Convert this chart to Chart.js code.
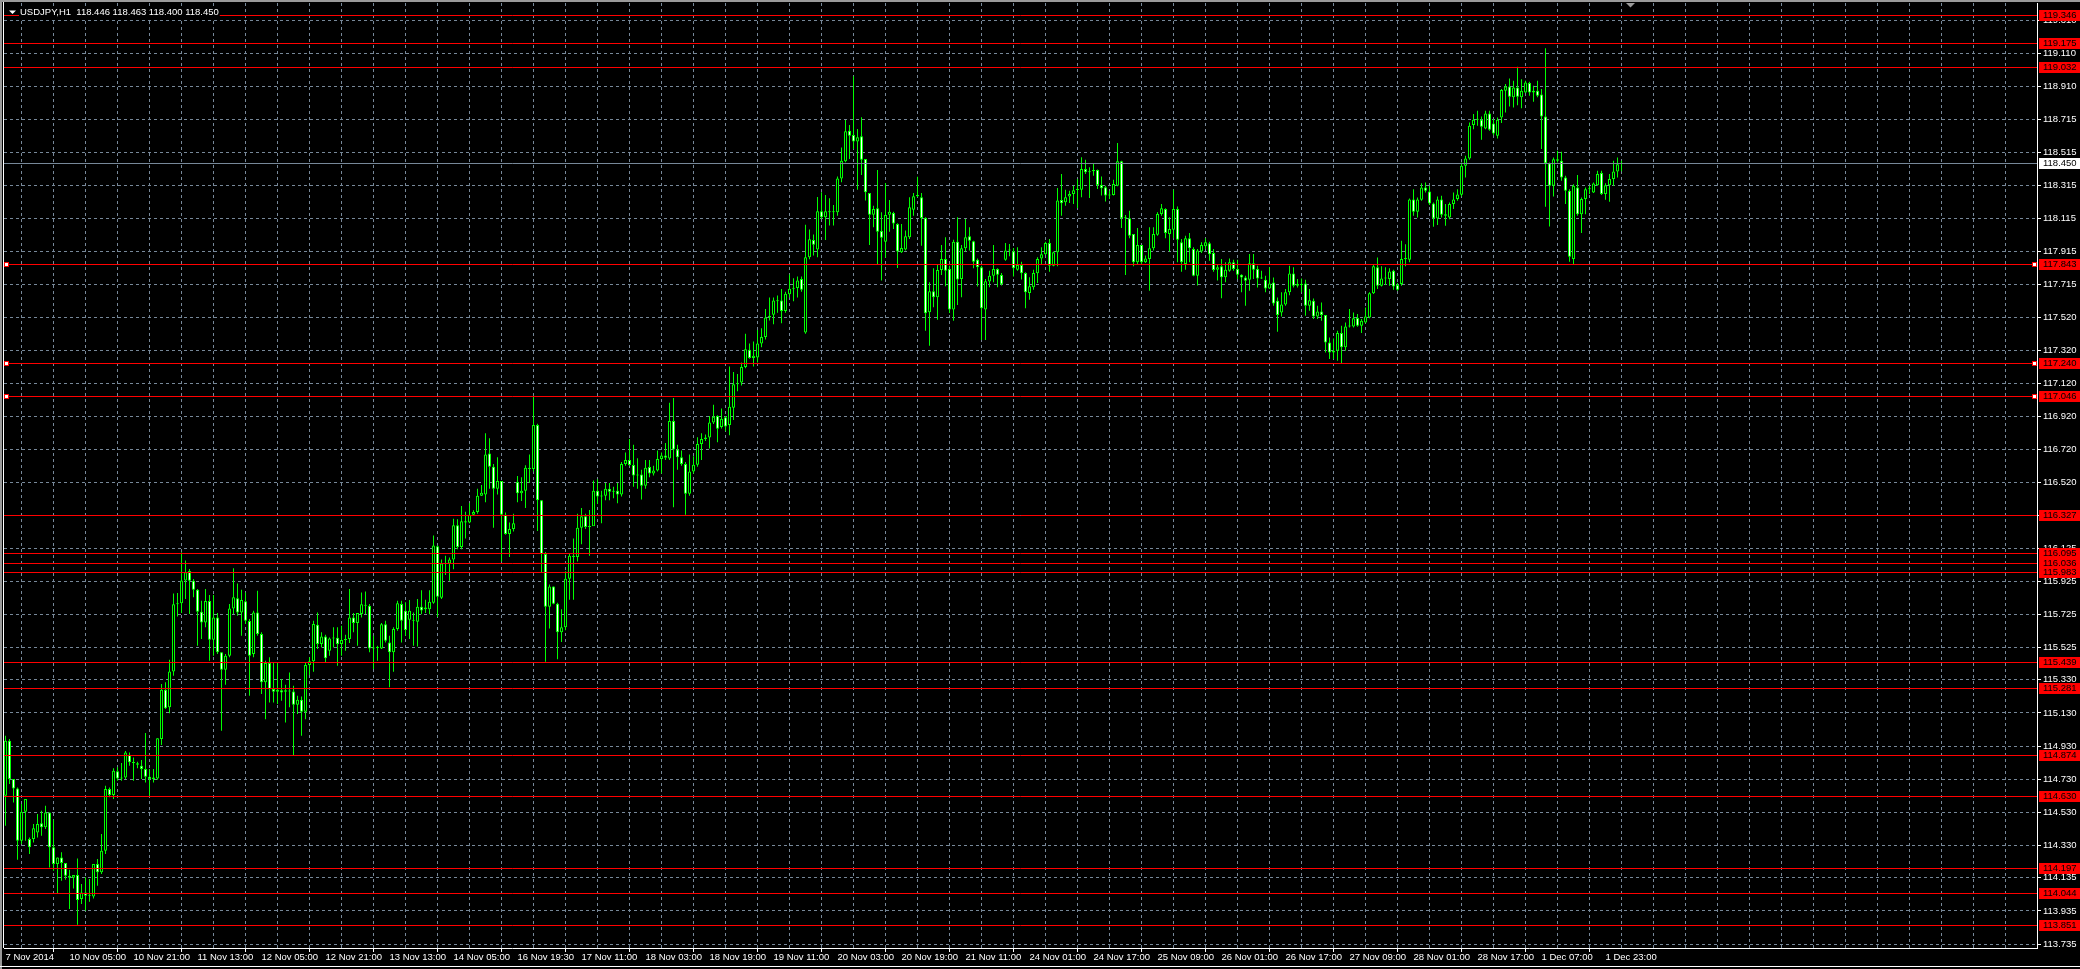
<!DOCTYPE html>
<html>
<head>
<meta charset="utf-8">
<title>USDJPY,H1</title>
<script src="https://cdn.jsdelivr.net/npm/chart.js@4.4.1/dist/chart.umd.min.js"></script>
<style>
  html, body { margin: 0; padding: 0; background: #000; overflow: hidden; }
  canvas { display: block; }
</style>
</head>
<body>
<canvas id="chart" width="2080" height="969"></canvas>
<script>
/*************************************************
 * DATA  (USDJPY H1, bar 0 = 7 Nov 2014 13:00)
 *************************************************/
const symbol = "USDJPY,H1";
const lastQuote = ["118.446", "118.463", "118.400", "118.450"];

const opens = [
114.631,114.963,114.731,114.675,114.359,114.534,114.369,114.369,114.409,114.464,114.440,114.530,114.319,114.218,114.258,114.224,
114.148,114.136,114.152,114.007,114.047,114.027,114.023,114.218,114.168,114.299,114.671,114.635,114.778,114.735,114.741,114.878,
114.832,114.826,114.812,114.792,114.745,114.731,114.735,114.973,115.271,115.164,115.381,115.786,115.792,115.930,115.987,115.928,
115.874,115.741,115.677,115.806,115.572,115.707,115.496,115.391,115.476,115.761,115.822,115.737,115.804,115.685,115.486,115.737,
115.607,115.315,115.432,115.275,115.258,115.267,115.258,115.265,115.260,115.180,115.210,115.138,115.419,115.442,115.663,115.546,
115.592,115.506,115.580,115.584,115.546,115.570,115.576,115.707,115.673,115.727,115.782,115.778,115.520,115.526,115.520,115.665,
115.556,115.496,115.637,115.788,115.747,115.693,115.691,115.681,115.772,115.756,115.756,115.795,116.137,115.825,116.033,116.033,
116.056,116.264,116.132,116.287,116.280,116.326,116.343,116.442,116.449,116.696,116.617,116.483,116.530,116.326,116.211,116.241,
116.525,116.456,116.472,116.610,116.603,116.869,116.414,116.090,115.772,115.894,115.790,115.617,115.647,115.940,116.079,116.072,
116.248,116.317,116.252,116.257,116.472,116.437,116.442,116.483,116.465,116.472,116.449,116.633,116.657,116.627,116.564,116.569,
116.502,116.615,116.576,116.594,116.663,116.684,116.666,116.892,116.720,116.673,116.633,116.453,116.587,116.629,116.754,116.784,
116.793,116.883,116.922,116.856,116.915,116.869,116.973,117.114,117.125,117.218,117.322,117.273,117.276,117.361,117.400,117.518,
117.534,117.620,117.620,117.557,117.657,117.691,117.696,117.749,117.426,117.881,117.985,117.927,118.158,118.123,118.156,118.152,
118.152,118.357,118.460,118.645,118.619,118.579,118.611,118.474,118.269,118.138,118.176,118.040,117.975,118.138,118.148,118.082,
117.911,117.927,118.001,118.168,118.249,118.243,118.118,117.549,117.675,117.639,117.804,117.870,117.810,117.565,117.975,117.750,
117.935,118.007,117.977,117.866,117.820,117.565,117.734,117.770,117.810,117.774,117.866,117.921,117.917,117.806,117.834,117.786,
117.665,117.700,117.784,117.874,117.899,117.967,117.830,117.911,118.227,118.213,118.247,118.263,118.287,118.289,118.414,118.394,
118.400,118.408,118.317,118.303,118.253,118.257,118.313,118.460,118.116,118.116,118.021,117.850,117.955,117.850,117.870,117.935,
118.017,118.142,118.172,118.021,118.047,118.172,117.971,117.840,117.995,117.931,117.770,117.915,117.947,117.965,117.907,117.806,
117.826,117.760,117.800,117.850,117.810,117.775,117.759,117.745,117.844,117.810,117.753,117.745,117.693,117.729,117.618,117.548,
117.596,117.669,117.783,117.709,117.719,117.723,117.588,117.618,117.524,117.554,117.532,117.367,117.306,117.316,117.423,117.337,
117.463,117.463,117.514,117.467,117.487,117.518,117.663,117.820,117.709,117.753,117.749,117.800,117.713,117.719,117.870,117.866,
118.230,118.156,118.228,118.302,118.278,118.206,118.115,118.230,118.141,118.121,118.202,118.232,118.258,118.433,118.477,118.679,
118.711,118.711,118.658,118.749,118.689,118.614,118.725,118.886,118.912,118.846,118.906,118.846,118.876,118.932,118.876,118.886,
118.864,118.731,118.449,118.312,118.473,118.463,118.363,118.282,117.870,118.302,118.141,118.232,118.292,118.272,118.316,118.389,
118.262,118.316,118.353,118.399,118.446
];

const highs = [
114.993,114.973,114.731,114.681,114.580,114.611,114.379,114.460,114.520,114.540,114.570,114.530,114.484,114.258,114.289,114.224,
114.184,114.152,114.252,114.098,114.138,114.128,114.218,114.248,114.399,114.691,114.681,114.796,114.802,114.828,114.900,114.892,
114.862,114.836,114.846,115.009,114.792,114.792,114.977,115.305,115.315,115.452,115.852,115.854,116.100,116.051,115.999,115.939,
115.878,115.808,115.878,115.842,115.842,115.733,115.496,115.486,115.788,116.003,115.912,115.874,115.858,115.697,115.747,115.868,
115.617,115.446,115.466,115.432,115.432,115.335,115.301,115.375,115.295,115.234,115.230,115.436,115.466,115.687,115.737,115.617,
115.603,115.586,115.647,115.647,115.657,115.603,115.878,115.733,115.733,115.858,115.864,115.788,115.597,115.536,115.673,115.687,
115.597,115.647,115.808,115.808,115.798,115.812,115.737,115.818,115.871,115.813,115.871,116.201,116.141,116.056,116.079,116.068,
116.303,116.299,116.379,116.345,116.396,116.354,116.483,116.506,116.818,116.788,116.633,116.673,116.530,116.340,116.280,116.333,
116.560,116.553,116.626,116.691,117.045,116.876,116.414,116.102,115.906,115.894,115.795,115.756,115.986,116.091,116.183,116.333,
116.368,116.333,116.356,116.534,116.541,116.472,116.518,116.518,116.495,116.518,116.645,116.703,116.784,116.749,116.668,116.599,
116.657,116.657,116.622,116.714,116.703,116.760,117.003,117.031,116.749,116.714,116.645,116.691,116.680,116.795,116.818,116.811,
116.922,116.991,116.927,116.968,116.922,117.222,117.188,117.176,117.246,117.419,117.361,117.372,117.442,117.453,117.569,117.638,
117.638,117.650,117.689,117.673,117.777,117.754,117.765,117.765,118.077,118.049,118.019,118.244,118.274,118.257,118.237,118.196,
118.369,118.544,118.709,118.679,118.973,118.655,118.726,118.474,118.269,118.192,118.408,118.152,118.329,118.227,118.156,118.086,
118.082,118.042,118.243,118.269,118.367,118.269,118.122,117.730,117.814,117.840,117.955,118.001,117.830,117.987,118.122,117.955,
118.112,118.062,117.981,117.874,117.830,117.750,117.800,117.955,117.814,117.786,117.967,117.961,117.937,117.941,117.854,117.790,
117.760,117.806,117.881,117.941,117.975,117.991,117.915,118.299,118.383,118.289,118.283,118.313,118.353,118.484,118.470,118.424,
118.444,118.410,118.369,118.313,118.283,118.349,118.571,118.464,118.136,118.162,118.021,118.058,117.955,117.891,118.062,118.062,
118.152,118.202,118.176,118.122,118.289,118.188,117.991,118.011,118.027,117.941,117.931,117.971,117.995,117.975,117.931,117.840,
117.870,117.850,117.874,117.866,117.866,117.779,117.769,117.900,117.900,117.830,117.800,117.769,117.820,117.759,117.638,117.669,
117.689,117.830,117.820,117.749,117.753,117.745,117.689,117.632,117.588,117.608,117.532,117.397,117.391,117.437,117.467,117.487,
117.568,117.548,117.538,117.508,117.578,117.669,117.840,117.880,117.826,117.820,117.814,117.806,117.725,117.980,117.960,118.236,
118.292,118.242,118.328,118.332,118.312,118.212,118.248,118.252,118.202,118.212,118.272,118.292,118.453,118.493,118.695,118.745,
118.765,118.731,118.765,118.765,118.715,118.725,118.896,118.926,118.960,118.946,119.031,118.956,118.946,118.940,118.916,118.946,
118.896,119.143,118.453,118.483,118.524,118.518,118.373,118.292,118.322,118.377,118.242,118.302,118.312,118.332,118.403,118.403,
118.328,118.383,118.463,118.483,118.463
];

const lows = [
114.450,114.701,114.590,114.244,114.339,114.359,114.279,114.349,114.379,114.389,114.430,114.198,114.178,114.043,114.118,114.124,
113.947,114.071,113.852,113.977,113.937,113.991,114.011,114.088,114.158,114.279,114.621,114.611,114.721,114.721,114.731,114.812,
114.721,114.796,114.731,114.711,114.631,114.711,114.727,114.937,115.154,115.128,115.355,115.713,115.733,115.818,115.727,115.828,
115.536,115.576,115.647,115.446,115.476,115.486,115.023,115.301,115.466,115.727,115.717,115.597,115.667,115.234,115.466,115.597,
115.244,115.093,115.194,115.194,115.184,115.204,115.073,115.164,114.872,115.124,114.993,115.093,115.359,115.379,115.516,115.526,
115.432,115.476,115.526,115.415,115.476,115.506,115.552,115.617,115.536,115.707,115.727,115.496,115.395,115.446,115.516,115.556,
115.285,115.379,115.627,115.556,115.597,115.576,115.536,115.532,115.726,115.733,115.726,115.790,115.710,115.818,115.963,115.929,
115.998,116.118,116.118,116.183,116.275,116.322,116.333,116.440,116.402,116.483,116.248,116.449,116.044,116.206,116.072,116.225,
116.402,116.409,116.368,116.518,116.587,116.229,115.975,115.439,115.640,115.786,115.455,115.559,115.629,115.813,115.813,116.044,
116.148,116.241,116.079,116.264,116.391,116.275,116.414,116.414,116.426,116.396,116.437,116.622,116.622,116.495,116.483,116.419,
116.483,116.553,116.564,116.587,116.576,116.657,116.657,116.372,116.599,116.622,116.326,116.442,116.576,116.617,116.657,116.772,
116.726,116.875,116.765,116.848,116.830,116.807,116.899,117.072,117.107,117.211,117.269,117.222,117.246,117.338,117.384,117.499,
117.476,117.546,117.483,117.546,117.638,117.615,117.638,117.673,117.419,117.869,117.892,117.881,118.112,117.985,118.072,118.072,
118.132,118.333,118.454,118.474,118.534,118.289,118.377,118.223,117.955,118.062,117.834,117.740,117.878,118.035,118.052,117.816,
117.907,117.921,117.991,118.132,118.243,117.951,117.438,117.347,117.579,117.504,117.774,117.706,117.545,117.498,117.593,117.639,
117.915,117.921,117.814,117.704,117.382,117.382,117.700,117.730,117.700,117.710,117.860,117.887,117.764,117.800,117.746,117.573,
117.625,117.685,117.726,117.840,117.895,117.794,117.826,117.826,118.132,118.192,118.209,118.202,118.178,118.243,118.383,118.239,
118.373,118.293,118.253,118.217,118.233,118.253,118.309,118.058,117.774,117.995,117.826,117.834,117.834,117.846,117.679,117.921,
118.011,118.132,117.995,117.915,117.995,117.850,117.794,117.806,117.850,117.766,117.710,117.907,117.931,117.860,117.794,117.740,
117.633,117.730,117.794,117.800,117.750,117.669,117.588,117.679,117.749,117.699,117.749,117.669,117.689,117.588,117.431,117.524,
117.588,117.652,117.699,117.699,117.669,117.528,117.558,117.508,117.508,117.498,117.306,117.266,117.266,117.256,117.236,117.316,
117.457,117.457,117.461,117.423,117.483,117.512,117.659,117.689,117.705,117.713,117.709,117.685,117.679,117.709,117.826,117.850,
118.131,118.121,118.222,118.272,118.196,118.065,118.075,118.121,118.071,118.111,118.172,118.222,118.248,118.363,118.469,118.654,
118.675,118.590,118.654,118.644,118.618,118.598,118.691,118.755,118.791,118.785,118.799,118.781,118.872,118.856,118.819,118.846,
118.534,118.186,118.067,118.248,118.453,118.343,118.202,117.854,117.840,118.131,118.027,118.141,118.262,118.268,118.312,118.256,
118.228,118.216,118.312,118.363,118.400
];

const closes = [
114.963,114.731,114.675,114.359,114.534,114.611,114.319,114.434,114.460,114.440,114.530,114.319,114.218,114.258,114.224,114.148,
114.136,114.152,114.001,114.047,114.027,114.033,114.218,114.168,114.299,114.671,114.635,114.782,114.735,114.741,114.892,114.832,
114.828,114.818,114.792,114.745,114.731,114.741,114.977,115.271,115.158,115.381,115.786,115.792,115.930,115.979,115.928,115.874,
115.741,115.677,115.806,115.572,115.707,115.496,115.391,115.476,115.761,115.828,115.737,115.812,115.687,115.476,115.737,115.607,
115.315,115.432,115.275,115.258,115.271,115.254,115.267,115.260,115.180,115.210,115.138,115.419,115.442,115.667,115.546,115.592,
115.460,115.580,115.584,115.546,115.570,115.574,115.707,115.673,115.733,115.786,115.778,115.520,115.526,115.522,115.665,115.566,
115.496,115.637,115.792,115.687,115.631,115.747,115.687,115.772,115.749,115.767,115.802,116.141,115.832,116.033,116.030,116.056,
116.264,116.132,116.287,116.280,116.326,116.343,116.442,116.460,116.691,116.617,116.483,116.530,116.326,116.211,116.241,116.275,
116.456,116.472,116.610,116.603,116.869,116.414,116.090,115.772,115.894,115.790,115.617,115.647,115.940,116.079,116.072,116.248,
116.317,116.252,116.257,116.472,116.437,116.442,116.483,116.465,116.472,116.449,116.633,116.657,116.627,116.564,116.569,116.502,
116.610,116.576,116.594,116.663,116.684,116.670,116.892,116.720,116.673,116.633,116.453,116.587,116.629,116.754,116.784,116.793,
116.883,116.918,116.846,116.906,116.860,116.978,117.114,117.120,117.218,117.326,117.273,117.287,117.361,117.400,117.518,117.527,
117.620,117.615,117.557,117.661,117.691,117.696,117.740,117.685,117.881,117.989,117.957,118.158,118.123,118.158,118.152,118.156,
118.357,118.464,118.641,118.615,118.579,118.605,118.470,118.273,118.138,118.172,118.035,117.999,118.136,118.156,118.084,117.915,
117.937,118.007,118.182,118.249,118.257,118.118,117.543,117.675,117.639,117.804,117.870,117.800,117.565,117.975,117.746,117.935,
118.001,117.981,117.854,117.820,117.573,117.736,117.770,117.810,117.776,117.718,117.921,117.925,117.814,117.834,117.784,117.669,
117.706,117.786,117.870,117.899,117.967,117.830,117.911,118.223,118.207,118.243,118.263,118.285,118.293,118.414,118.394,118.400,
118.408,118.317,118.297,118.253,118.257,118.323,118.460,118.116,118.122,118.011,117.850,117.955,117.850,117.874,117.935,118.021,
118.142,118.176,118.027,118.052,118.172,117.987,117.850,117.995,117.935,117.770,117.921,117.955,117.971,117.899,117.804,117.820,
117.760,117.806,117.850,117.810,117.776,117.759,117.739,117.844,117.806,117.753,117.759,117.693,117.723,117.602,117.532,117.596,
117.669,117.783,117.709,117.719,117.713,117.588,117.622,117.524,117.554,117.532,117.367,117.306,117.316,117.423,117.337,117.463,
117.467,117.512,117.467,117.498,117.524,117.663,117.826,117.709,117.753,117.759,117.795,117.705,117.685,117.870,117.874,118.230,
118.156,118.230,118.302,118.282,118.206,118.115,118.230,118.137,118.131,118.202,118.230,118.260,118.433,118.477,118.675,118.711,
118.715,118.669,118.749,118.650,118.628,118.711,118.890,118.912,118.850,118.906,118.850,118.886,118.936,118.876,118.886,118.856,
118.731,118.449,118.312,118.473,118.463,118.363,118.282,117.884,118.312,118.141,118.232,118.292,118.296,118.326,118.383,118.262,
118.316,118.353,118.399,118.443,118.450
];

// time labels, one every 16 bars
const timeLabels = [
  "7 Nov 2014", "10 Nov 05:00", "10 Nov 21:00", "11 Nov 13:00", "12 Nov 05:00", "12 Nov 21:00",
  "13 Nov 13:00", "14 Nov 05:00", "16 Nov 19:30", "17 Nov 11:00", "18 Nov 03:00", "18 Nov 19:00",
  "19 Nov 11:00", "20 Nov 03:00", "20 Nov 19:00", "21 Nov 11:00", "24 Nov 01:00", "24 Nov 17:00",
  "25 Nov 09:00", "26 Nov 01:00", "26 Nov 17:00", "27 Nov 09:00", "28 Nov 01:00", "28 Nov 17:00",
  "1 Dec 07:00", "1 Dec 23:00"
];

// price scale ticks
const priceTicks = [
  119.310, 119.110, 118.910, 118.715, 118.515, 118.315, 118.115, 117.915, 117.715, 117.520,
  117.320, 117.120, 116.920, 116.720, 116.520, 116.325, 116.125, 115.925, 115.725, 115.525,
  115.330, 115.130, 114.930, 114.730, 114.530, 114.330, 114.135, 113.935, 113.735
];

// horizontal lines drawn on the chart
const levels = [
  119.346, 119.175, 119.032, 117.843, 117.240, 117.046, 116.327, 116.095, 116.036,
  115.983, 115.439, 115.281, 114.874, 114.630, 114.197, 114.044, 113.851
];
const selectedLevels = [117.843, 117.240, 117.046];
const bidPrice = 118.450;

/*************************************************
 * STYLE
 *************************************************/
const FONT = "'Liberation Sans', Arial, sans-serif";
const FONT_SIZE = 9.5;
const GRID = "#778899";
const CANDLE = "#00ff00";
const LEVEL = "#ff0000";

const BARS_PER_LABEL = 16;
const BARS_PER_GRID = 8;

function timeLabel(v) {
  if (v % BARS_PER_LABEL !== 0) return "";
  return timeLabels[v / BARS_PER_LABEL] || "";
}

/*************************************************
 * OVERLAYS (levels, bid line, labels, title)
 *************************************************/
const overlay = {
  id: "overlay",
  beforeDraw(chart) {
    const ctx = chart.ctx;
    ctx.save();
    ctx.fillStyle = "#000";
    ctx.fillRect(0, 0, chart.width, chart.height);
    ctx.restore();
  },
  afterDatasetsDraw(chart) {
    const { ctx, chartArea: a, scales: { y } } = chart;
    ctx.save();
    ctx.lineWidth = 1;
    levels.forEach(v => {
      const py = Math.round(y.getPixelForValue(v)) + 0.5;
      ctx.strokeStyle = LEVEL;
      ctx.beginPath();
      ctx.moveTo(a.left, py);
      ctx.lineTo(a.right, py);
      ctx.stroke();
    });
    const by = Math.round(y.getPixelForValue(bidPrice)) + 0.5;
    ctx.strokeStyle = GRID;
    ctx.beginPath();
    ctx.moveTo(a.left, by);
    ctx.lineTo(a.right, by);
    ctx.stroke();

    // handles of the selected lines
    selectedLevels.forEach(v => {
      const py = Math.round(y.getPixelForValue(v));
      [a.left, a.right - 5].forEach(x0 => {
        ctx.fillStyle = LEVEL;
        ctx.fillRect(x0, py - 2, 5, 5);
        ctx.fillStyle = "#fff";
        ctx.fillRect(x0 + 1, py - 1, 3, 3);
      });
    });
    ctx.restore();
  },
  afterDraw(chart) {
    const { ctx, chartArea: a, scales: { y } } = chart;
    ctx.save();
    ctx.font = FONT_SIZE + "px " + FONT;
    ctx.textBaseline = "middle";
    ctx.textAlign = "left";

    const box = (v, bg, fg) => {
      const py = Math.round(y.getPixelForValue(v));
      ctx.fillStyle = bg;
      ctx.fillRect(a.right + 2, py - 5, chart.width - a.right - 2, 11);
      ctx.fillStyle = fg;
      ctx.fillText(v.toFixed(3), a.right + 6, py + 0.5);
    };
    levels.forEach(v => box(v, LEVEL, "#000"));
    box(bidPrice, "#fff", "#000");

    // title
    const title = symbol + "  " + lastQuote.join(" ");
    const w = ctx.measureText(title).width;
    ctx.fillStyle = "#000";
    ctx.fillRect(19, 6, w + 2, 13);
    ctx.fillStyle = "#fff";
    ctx.fillText(title, 20, 12.5);
    ctx.beginPath();
    ctx.moveTo(9, 10.5);
    ctx.lineTo(16, 10.5);
    ctx.lineTo(12.5, 14);
    ctx.closePath();
    ctx.fill();

    // window frame
    ctx.fillStyle = "#9a9a9a";
    ctx.fillRect(0, 0, chart.width, 2);
    ctx.fillRect(0, 0, 2, chart.height);
    ctx.fillStyle = "#fff";
    ctx.fillRect(3, 2, 1, a.bottom - 2);
    ctx.fillRect(0, chart.height - 3, chart.width, 1);

    // chart shift marker
    ctx.fillStyle = "#9a9a9a";
    ctx.beginPath();
    ctx.moveTo(1626, 3);
    ctx.lineTo(1635, 3);
    ctx.lineTo(1630.5, 7.5);
    ctx.closePath();
    ctx.fill();
    ctx.restore();
  }
};

/*************************************************
 * CHART
 *************************************************/
const bodies = opens.map((o, i) => ({ x: i, y: [o, closes[i]] }));
const wicks = lows.map((l, i) => ({ x: i, y: [l, highs[i]] }));

new Chart(document.getElementById("chart"), {
  type: "bar",
  data: {
    datasets: [
      {
        label: "body",
        data: bodies,
        order: 0,
        grouped: false,
        barThickness: 3,
        minBarLength: 1,
        inflateAmount: 0,
        borderWidth: 1,
        borderSkipped: false,
        borderColor: CANDLE,
        backgroundColor: c => closes[c.dataIndex] < opens[c.dataIndex] ? "#ffffff" : "#000000"
      },
      {
        label: "wick",
        data: wicks,
        order: 1,
        grouped: false,
        barThickness: 1,
        inflateAmount: 0,
        borderWidth: 0,
        backgroundColor: CANDLE
      }
    ]
  },
  options: {
    responsive: false,
    devicePixelRatio: 1,
    animation: false,
    events: [],
    layout: { padding: { left: 4, top: 3, right: 0, bottom: 0 } },
    plugins: { legend: { display: false }, tooltip: { enabled: false }, title: { display: false } },
    scales: {
      x: {
        type: "linear",
        position: "bottom",
        offset: false,
        min: -0.375,
        max: 507.875,
        afterBuildTicks: s => {
          s.ticks = [];
          for (let v = 0; v <= 504; v += BARS_PER_GRID) s.ticks.push({ value: v });
        },
        afterFit: s => { s.height = 21; s.paddingLeft = 0; s.paddingRight = 0; },
        grid: {
          color: c => (c.tick && c.tick.value === 0) ? "rgba(0,0,0,0)" : GRID,
          lineWidth: 1,
          tickLength: 4,
          tickWidth: 1,
          tickColor: c => (c.tick && timeLabel(c.tick.value)) ? "#ffffff" : "rgba(0,0,0,0)"
        },
        border: { display: true, color: "#ffffff", width: 1, dash: [3, 3] },
        ticks: {
          autoSkip: false,
          maxRotation: 0,
          minRotation: 0,
          align: "start",
          padding: 0,
          color: "#ffffff",
          font: { family: FONT, size: FONT_SIZE },
          callback: v => timeLabel(v)
        }
      },
      y: {
        type: "linear",
        position: "right",
        min: 113.7115,
        max: 119.4156,
        afterBuildTicks: s => { s.ticks = priceTicks.map(v => ({ value: v })); },
        afterFit: s => { s.width = 43; s.paddingTop = 0; s.paddingBottom = 0; },
        grid: { color: GRID, lineWidth: 1, tickLength: 4, tickWidth: 1, tickColor: "#ffffff" },
        border: { display: true, color: "#ffffff", width: 1, dash: [3, 3] },
        ticks: {
          padding: 2,
          color: "#ffffff",
          font: { family: FONT, size: FONT_SIZE },
          callback: v => v.toFixed(3)
        }
      }
    }
  },
  plugins: [overlay]
});
</script>
</body>
</html>
